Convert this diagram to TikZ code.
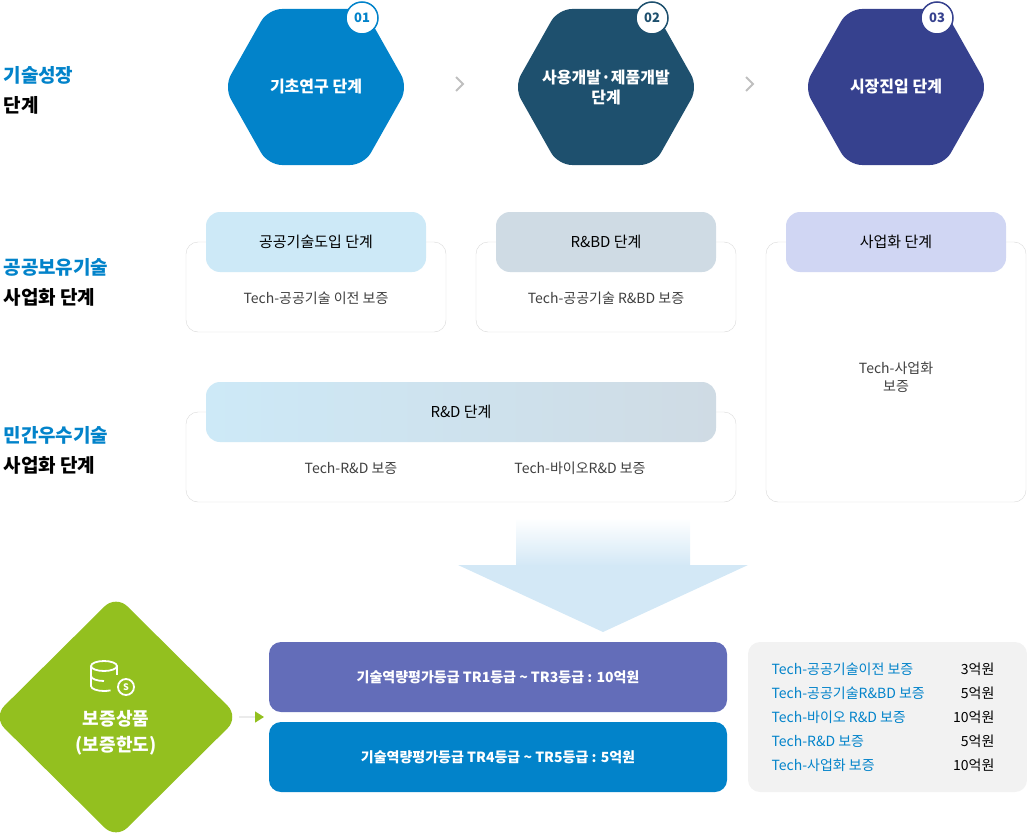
\documentclass[tikz,border=0pt]{standalone}
\usepackage{fontspec}
\setmainfont{Noto Sans CJK KR}
\usetikzlibrary{shapes.geometric,arrows.meta,shadings}
\definecolor{hexA}{HTML}{0283CA}
\definecolor{hexB}{HTML}{1E506E}
\definecolor{hexC}{HTML}{36418E}
\definecolor{pillA}{HTML}{CDE9F7}
\definecolor{pillB}{HTML}{CFDBE4}
\definecolor{pillC}{HTML}{D0D6F3}
\definecolor{txtblue}{HTML}{0283CA}
\definecolor{leaf}{HTML}{93C01F}
\definecolor{purp}{HTML}{636DB9}
\definecolor{panel}{HTML}{F2F2F2}
\definecolor{frame}{HTML}{D9D9D9}
\definecolor{arr}{HTML}{D3E8F6}
\newcommand{\hexpath}[2]{% center x, colour
  \fill[#2,rounded corners=14pt] (#1-92,87) -- (#1-48,9) -- (#1+48,9) -- (#1+92,87)
    -- (#1+48,165) -- (#1-48,165) -- cycle;}
\tikzset{
  hexstage/.style={text=white,font=\bfseries\fontsize{16}{20}\selectfont,align=center},
  badge/.style={circle,fill=white,draw=#1,line width=1.5pt,minimum size=32pt,inner sep=0pt,
    text=#1,font=\bfseries\fontsize{13}{13}\selectfont},
  framebox/.style={draw=frame,rounded corners=12pt,fill=white},
  pill/.style={rounded corners=14pt,fill=#1,font=\fontsize{15}{18}\selectfont},
  sidelab/.style={anchor=west,align=left,font=\bfseries\fontsize{19}{30}\selectfont},
  item/.style={font=\fontsize{14}{18}\selectfont,text=black!75},
  grade/.style={rounded corners=12pt,fill=#1,text=white,font=\bfseries\fontsize{14}{18}\selectfont},
  row/.style={anchor=west,text=txtblue,font=\fontsize{14}{17}\selectfont},
  amount/.style={anchor=east,font=\fontsize{14}{17}\selectfont},
  chev/.style={draw=black!25,line width=1.8pt}
}
\begin{document}
\begin{tikzpicture}[x=1pt,y=-1pt]
  \useasboundingbox (0,0) rectangle (1027,832);

  % stages
  \hexpath{316}{hexA}
  \hexpath{606}{hexB}
  \hexpath{896}{hexC}
  \node[hexstage] (h1) at (316,87) {기초연구 단계};
  \node[hexstage] (h2) at (606,87) {사용개발·제품개발\\단계};
  \node[hexstage] (h3) at (896,87) {시장진입 단계};
  \node[badge=hexA] (b1) at (362,18) {01};
  \node[badge=hexB] (b2) at (652,18) {02};
  \node[badge=hexC] (b3) at (937,18) {03};
  \draw[chev] (456,77) -- (463,84) -- (456,91);
  \draw[chev] (746,77) -- (753,84) -- (746,91);

  % side labels
  \node[sidelab] (s1) at (0,90) {\textcolor{txtblue}{기술성장}\\단계};
  \node[sidelab] (s2) at (0,282) {\textcolor{txtblue}{공공보유기술}\\사업화 단계};
  \node[sidelab] (s3) at (0,450) {\textcolor{txtblue}{민간우수기술}\\사업화 단계};

  % boxes
  \draw[framebox] (186,242) rectangle (446,332);
  \draw[framebox] (476,242) rectangle (736,332);
  \draw[framebox] (766,242) rectangle (1026,502);
  \draw[framebox] (186,412) rectangle (736,502);
  \node[pill=pillA,minimum width=220pt,minimum height=60pt] (p1) at (316,242) {공공기술도입 단계};
  \node[pill=pillB,minimum width=220pt,minimum height=60pt] (p2) at (606,242) {R\&BD 단계};
  \node[pill=pillC,minimum width=220pt,minimum height=60pt] (p3) at (896,242) {사업화 단계};
  \shade[left color=pillA,right color=pillB,rounded corners=14pt] (206,382) rectangle (716,442);
  \node[font=\fontsize{15}{18}\selectfont] (p4) at (461,412) {R\&D 단계};
  \node[item] (t1) at (316,298) {Tech-공공기술 이전 보증};
  \node[item] (t2) at (606,298) {Tech-공공기술 R\&BD 보증};
  \node[item,align=center] (t3) at (896,377) {Tech-사업화\\보증};
  \node[item] (t4) at (351,468) {Tech-R\&D 보증};
  \node[item] (t5) at (580,468) {Tech-바이오R\&D 보증};

  % big arrow
  \shade[top color=white,bottom color=arr] (516,518) rectangle (690,566);
  \fill[arr] (458,565) -- (748,565) -- (603,632) -- cycle;

  % product
  \node[diamond,fill=leaf,minimum width=246pt,minimum height=244pt,inner sep=0pt,
    rounded corners=16pt] (dm) at (116,717) {};
  \begin{scope}[draw=white,line width=1.8pt]
    \draw (104,666) ellipse (13pt and 5pt);
    \draw (91,666) -- (91,686) arc[start angle=180,end angle=300,x radius=13pt,y radius=5pt];
    \draw (117,666) -- (117,675);
    \draw (91,676) arc[start angle=180,end angle=270,x radius=13pt,y radius=5pt];
    \draw[fill=leaf] (126,687) circle (8pt);
  \end{scope}
  \node[text=white,font=\bfseries\fontsize{9}{9}\selectfont] (ds) at (126,687) {S};
  \node[text=white,align=center,font=\bfseries\fontsize{18}{26}\selectfont] (dl) at (116,733) {보증상품\\(보증한도)};
  \coordinate (tip) at (264,717);
  \draw[draw=black!8,line width=1.5pt,-{Triangle[length=9pt,width=11pt,color=leaf]}] (dm.east) -- (tip);

  \node[grade=purp,minimum width=458pt,minimum height=70pt] (g1) at (498,677) {기술역량평가등급 TR1등급 \textasciitilde{} TR3등급 : 10억원};
  \node[grade=hexA,minimum width=458pt,minimum height=70pt] (g2) at (498,757) {기술역량평가등급 TR4등급 \textasciitilde{} TR5등급 : 5억원};

  \fill[panel,rounded corners=12pt] (748,642) rectangle (1027,792);
  \foreach \y/\n/\v in {669/Tech-공공기술이전 보증/3억원, 693/Tech-공공기술R\&BD 보증/5억원,
      717/Tech-바이오 R\&D 보증/10억원, 741/Tech-R\&D 보증/5억원, 765/Tech-사업화 보증/10억원}{
    \node[row] at (768,\y) {\n};
    \node[amount] at (998,\y) {\v};
  }
\end{tikzpicture}
\end{document}
